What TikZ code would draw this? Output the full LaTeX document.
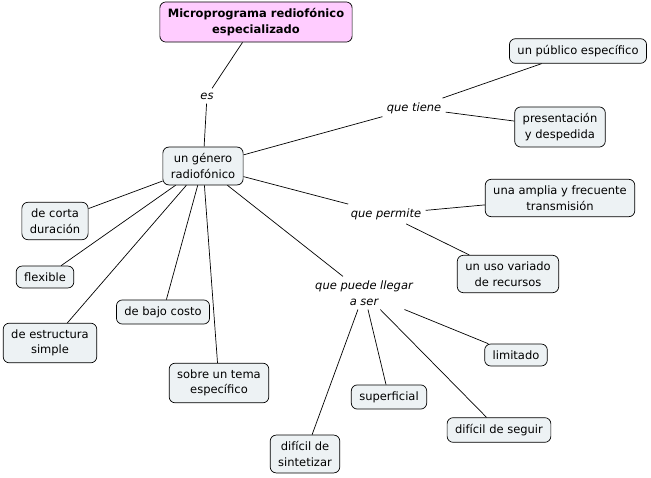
\documentclass[tikz,border=0pt]{standalone}
\usepackage{fontspec}
\setmainfont{DejaVu Sans}
\usepackage{tikz}
\usetikzlibrary{positioning}
\definecolor{conceptfill}{HTML}{EDF2F4}
\definecolor{rootfill}{HTML}{FFCCFF}

\begin{document}
\begin{tikzpicture}[x=1pt,y=-1pt,
  concept/.style={draw, line width=0.7pt, rounded corners=6pt, fill=conceptfill,
    align=center, font=\fontsize{11.5}{15.5}\selectfont, inner xsep=8pt, inner ysep=6.5pt},
  rootbox/.style={concept, fill=rootfill, font=\fontsize{11.5}{15.5}\selectfont\bfseries},
  link/.style={align=center, font=\fontsize{11.5}{15.5}\selectfont\itshape, inner sep=4pt},
  every path/.style={line width=0.7pt}]
\useasboundingbox (0,0) rectangle (651,478);

% conceptos
\node[rootbox] (micro) at (256,22) {Microprograma rediofónico\\especializado};
\node[concept] (genero) at (203,166) {un género\\radiofónico};
\node[concept] (publico) at (578,51) {un público específico};
\node[concept] (presenta) at (560,127) {presentación\\y despedida};
\node[concept] (amplia) at (560,198) {una amplia y frecuente\\transmisión};
\node[concept] (uso) at (508,274) {un uso variado\\de recursos};
\node[concept] (limitado) at (516,355) {limitado};
\node[concept] (superf) at (389,397) {superficial};
\node[concept] (seguir) at (499,430) {difícil de seguir};
\node[concept] (sintet) at (305,454) {difícil de\\sintetizar};
\node[concept] (corta) at (55,221) {de corta\\duración};
\node[concept] (flexible) at (45,277) {flexible};
\node[concept] (estruct) at (50,343) {de estructura\\simple};
\node[concept] (bajo) at (163,312) {de bajo costo};
\node[concept] (tema) at (219,383) {sobre un tema\\específico};

% enlaces
\node[link] (es) at (207,96) {es};
\node[link] (tiene) at (414,108) {que tiene};
\node[link] (permite) at (386,214) {que permite};
\node[link] (llegar) at (364,293) {que puede llegar\\a ser};

\draw (micro) -- (es);
\draw (es) -- (genero);
\draw (genero) -- (tiene);
\draw (tiene) -- (publico);
\draw (tiene) -- (presenta);
\draw (genero) -- (permite);
\draw (permite) -- (amplia);
\draw (permite) -- (uso);
\draw (genero) -- (llegar);
\draw (llegar) -- (limitado);
\draw (llegar) -- (superf);
\draw (llegar) -- (seguir);
\draw (llegar) -- (sintet);
\draw (genero) -- (corta);
\draw (genero) -- (flexible);
\draw (genero) -- (estruct);
\draw (genero) -- (bajo);
\draw (genero) -- (tema);
\end{tikzpicture}
\end{document}
